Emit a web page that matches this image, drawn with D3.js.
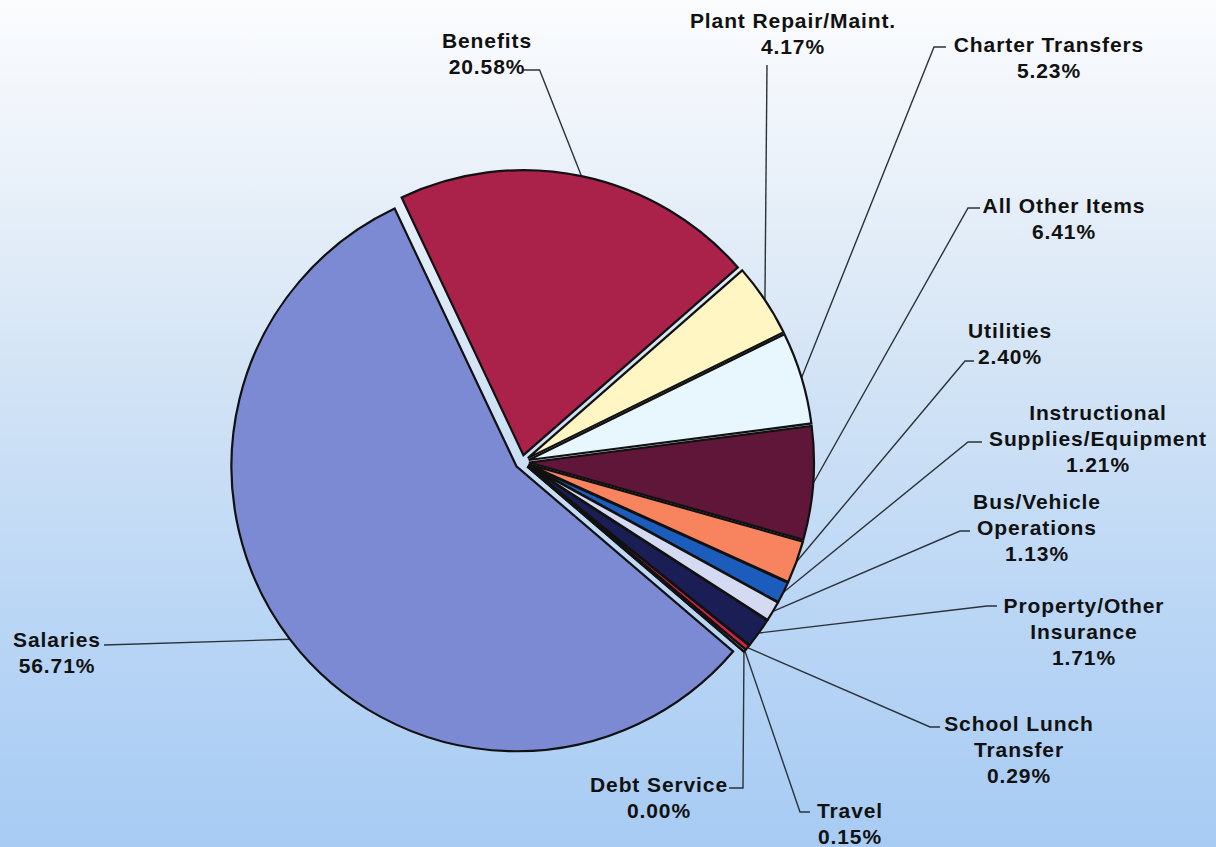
<!DOCTYPE html>
<html><head><meta charset="utf-8">
<script src="https://cdn.jsdelivr.net/npm/d3@7"></script>
<style>html,body{margin:0;padding:0;overflow:hidden;background:#fff}</style>
</head><body><svg id="chart" width="1216" height="847"></svg>
<script>
// ---- data ----
const categories = ["Benefits","Plant Repair/Maint.","Charter Transfers","All Other Items","Utilities",
  "Instructional Supplies/Equipment","Bus/Vehicle Operations","Property/Other Insurance",
  "School Lunch Transfer","Travel","Debt Service","Salaries"];
const values = [20.58,4.17,5.23,6.41,2.40,1.21,1.13,1.71,0.29,0.15,0.00,56.71];
const labelLines = [["Benefits"],["Plant Repair/Maint."],["Charter Transfers"],["All Other Items"],["Utilities"],
  ["Instructional","Supplies/Equipment"],["Bus/Vehicle","Operations"],["Property/Other","Insurance"],
  ["School Lunch","Transfer"],["Travel"],["Debt Service"],["Salaries"]];
const colors = ["#AA2149","#FFF6C4","#E8F6FE","#5F1638","#F7845F","#1C5CBD","#D5DAF3","#1B1E55",
  "#D0234A","#C8D4F0","#9999CC","#7C8AD4"];

// ---- layout (label anchor = centre x, first baseline y; leader elbow and dash end) ----
const labelLayout = [
  {x:487, y:47.5, elbow:[539.6,70], dash:[523.5,70]},
  {x:793, y:28,   elbow:[767,65],   dash:[767,65]},
  {x:1049,y:52,   elbow:[934,47],   dash:[946,47]},
  {x:1064,y:213,  elbow:[968,208],  dash:[980,208]},
  {x:1010,y:338,  elbow:[965,361],  dash:[974,361]},
  {x:1098,y:420,  elbow:[968,442],  dash:[982,442]},
  {x:1037,y:509,  elbow:[960,531],  dash:[970,531]},
  {x:1084,y:613,  elbow:[987,606],  dash:[997,606]},
  {x:1019,y:731,  elbow:[930,727],  dash:[940,727]},
  {x:850, y:818,  elbow:[800,812],  dash:[810,812]},
  {x:659, y:792,  elbow:[743,788],  dash:[729,788]},
  {x:57,  y:647,  elbow:[104,645],  dash:[104,645]}
];

const W = 1216, H = 847;
const cx = 522, cy = 462, R = 285, explode = 7;
const startDeg = -25.3;
const lineH = 26;

const svg = d3.select("#chart");
const defs = svg.append("defs");
const grad = defs.append("linearGradient").attr("id","bg").attr("x1",0).attr("y1",0).attr("x2",0).attr("y2",1);
[["0%","#FBFCFE"],["20%","#EAF1F9"],["45%","#D2E3F5"],["70%","#BCD7F5"],["100%","#A7CBF3"]]
  .forEach(([o,c]) => grad.append("stop").attr("offset",o).attr("stop-color",c));
svg.append("rect").attr("width",W).attr("height",H).attr("fill","url(#bg)");

const data = categories.map((c,i) => ({cat:c, value:values[i], lines:labelLines[i], color:colors[i], lay:labelLayout[i]}));
const start = startDeg * Math.PI/180;
const pie = d3.pie().sort(null).value(d => d.value).startAngle(start).endAngle(start + 2*Math.PI);
const arcs = pie(data);
const arcGen = d3.arc().innerRadius(0).outerRadius(R);

arcs.forEach(a => {
  a.mid = (a.startAngle + a.endAngle)/2;
  a.ox = explode*Math.sin(a.mid);
  a.oy = -explode*Math.cos(a.mid);
  a.px = cx + a.ox + R*Math.sin(a.mid);
  a.py = cy + a.oy - R*Math.cos(a.mid);
});

// leader lines
svg.append("g").selectAll("polyline").data(arcs).join("polyline")
  .attr("points", a => [[a.px,a.py], a.data.lay.elbow, a.data.lay.dash].map(p => p.join(",")).join(" "))
  .attr("fill","none").attr("stroke","#2b3238").attr("stroke-width",1.4);

// slices
const g = svg.append("g").attr("transform",`translate(${cx},${cy})`);
g.selectAll("path").data(arcs).join("path")
  .attr("transform", a => `translate(${a.ox},${a.oy})`)
  .attr("d", arcGen)
  .attr("fill", a => a.data.color)
  .attr("stroke","#111").attr("stroke-width",2.2).attr("stroke-linejoin","miter");

// labels
const lg = svg.append("g").attr("font-family","'Liberation Sans', Arial, sans-serif")
  .attr("font-weight","bold").attr("font-size",21).attr("fill","#111").attr("letter-spacing","0.9px");
arcs.forEach(a => {
  const lines = a.data.lines.concat([a.data.value.toFixed(2) + "%"]);
  const t = lg.append("text").attr("text-anchor","middle");
  lines.forEach((ln,i) => t.append("tspan").attr("x", a.data.lay.x).attr("y", a.data.lay.y + i*lineH).text(ln));
});
</script></body></html>
